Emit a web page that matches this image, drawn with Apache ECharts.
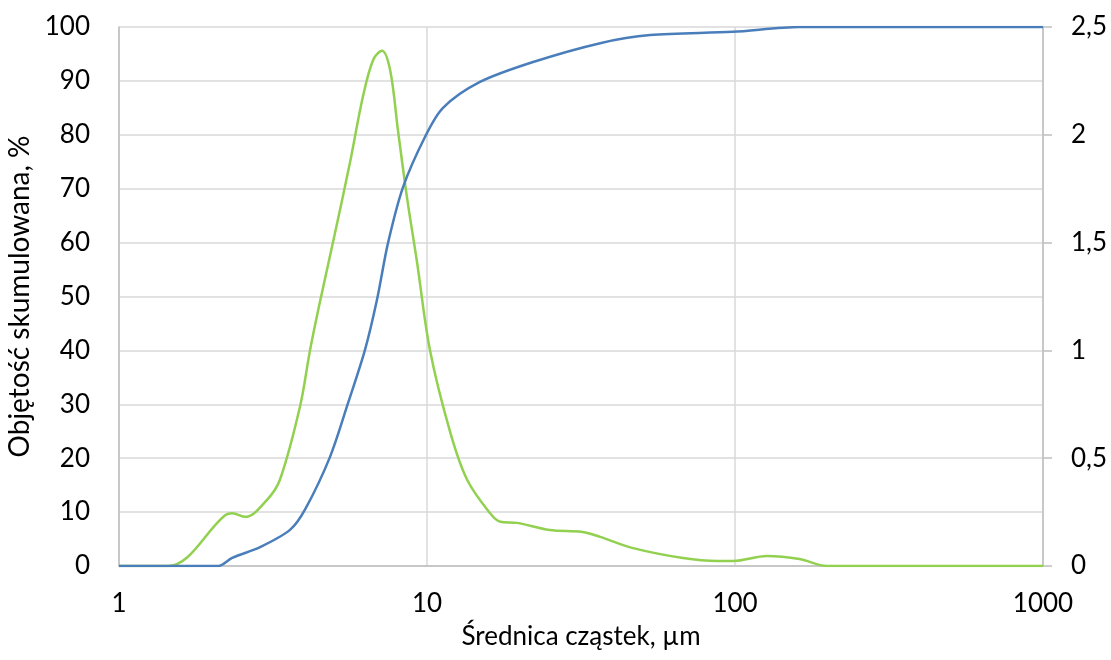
<!DOCTYPE html>
<html>
<head>
<meta charset="utf-8">
<script src="https://cdn.jsdelivr.net/npm/echarts@6/dist/echarts.min.js"></script>
<style>
  html, body { margin: 0; padding: 0; background: #fff; }
  #chart { width: 1111px; height: 660px; }
</style>
</head>
<body>
<div id="chart"></div>
<script>
// Cumulative volume (%) vs particle diameter (µm)
const cumDiameters = [1, 1.5, 2.1, 2.33, 2.87, 3.59, 4.02, 4.84, 5.54, 6.29, 6.88, 7.47, 8.36, 9.85, 11.27, 14.86, 22.1, 36.5, 53, 98.5, 162, 1000];
const cumValues    = [0, 0, 0, 1.5, 3.5, 6.7, 10.5, 20.2, 30.2, 40.1, 49.4, 59.9, 70.3, 79.6, 85, 89.8, 93.5, 97, 98.5, 99.1, 100, 100];

// Differential volume distribution (right axis)
const diffDiameters = [1, 1.44, 2.21, 2.33, 2.57, 3.02, 3.33, 3.87, 4.17, 4.5, 4.95, 5.62, 6.2, 6.7, 7.14, 7.59, 8.05, 8.61, 9.28, 10.23, 11.9, 13.5, 16, 17.3, 19.6, 25, 32, 36.5, 46.7, 67.8, 87.5, 98.5, 127, 162, 199, 1000];
const diffValues    = [0, 0, 0.235, 0.245, 0.228, 0.306, 0.40, 0.74, 1.0, 1.23, 1.5, 1.87, 2.18, 2.35, 2.39, 2.30, 2.02, 1.71, 1.41, 1.0, 0.62, 0.40, 0.246, 0.205, 0.2, 0.167, 0.158, 0.135, 0.083, 0.037, 0.023, 0.023, 0.046, 0.032, 0, 0];

const xTicks = [1, 10, 100, 1000];

const FONT = 'Lato, "Open Sans", sans-serif';
const TEXT = '#000';
const GRID = '#d9d9d9';
const AXIS = '#bfbfbf';

const pair = (xs, ys) => xs.map((x, i) => [x, ys[i]]);

const chart = echarts.init(document.getElementById('chart'), null, { renderer: 'canvas' });
chart.setOption({
  animation: false,
  backgroundColor: '#fff',
  grid: { left: 119, right: 68, top: 27, bottom: 94, containLabel: false, outerBoundsMode: 'none' },
  xAxis: {
    type: 'log',
    logBase: 10,
    min: xTicks[0],
    max: xTicks[xTicks.length - 1],
    name: 'Średnica cząstek, µm',
    nameLocation: 'middle',
    nameGap: 58,
    nameTextStyle: { fontFamily: FONT, fontSize: 26, color: TEXT },
    axisLine: { show: true, lineStyle: { color: AXIS, width: 1.5 } },
    axisTick: { show: false },
    minorTick: { show: false },
    axisLabel: { fontFamily: FONT, fontSize: 26, color: TEXT, margin: 25, formatter: v => String(v) },
    splitLine: { show: true, lineStyle: { color: GRID, width: 1.5 } }
  },
  yAxis: [
    {
      type: 'value',
      min: 0, max: 100, interval: 10,
      name: 'Objętość skumulowana, %',
      nameLocation: 'middle',
      nameGap: 83,
      nameRotate: 90,
      nameTextStyle: { fontFamily: FONT, fontSize: 28, color: TEXT },
      axisLine: { show: true, lineStyle: { color: AXIS, width: 1.5 } },
      axisTick: { show: false },
      axisLabel: { fontFamily: FONT, fontSize: 26, color: TEXT, margin: 29 },
      splitLine: { show: true, lineStyle: { color: GRID, width: 1.5 } }
    },
    {
      type: 'value',
      position: 'right',
      min: 0, max: 2.5, interval: 0.5,
      axisLine: { show: true, lineStyle: { color: AXIS, width: 1.5 } },
      axisTick: { show: true, inside: false, length: 9, lineStyle: { color: AXIS, width: 1.5 } },
      axisLabel: {
        fontFamily: FONT, fontSize: 26, color: TEXT, margin: 28,
        formatter: v => String(v).replace('.', ',')
      },
      splitLine: { show: false }
    }
  ],
  series: [
    {
      type: 'line',
      yAxisIndex: 1,
      data: pair(diffDiameters, diffValues),
      smooth: 0.35,
      symbol: 'none',
      lineStyle: { color: '#92d050', width: 2.5 },
      z: 2
    },
    {
      type: 'line',
      yAxisIndex: 0,
      data: pair(cumDiameters, cumValues),
      smooth: 0.3,
      symbol: 'none',
      lineStyle: { color: '#4a7ebb', width: 2.5 },
      z: 3
    }
  ]
});
</script>
</body>
</html>
